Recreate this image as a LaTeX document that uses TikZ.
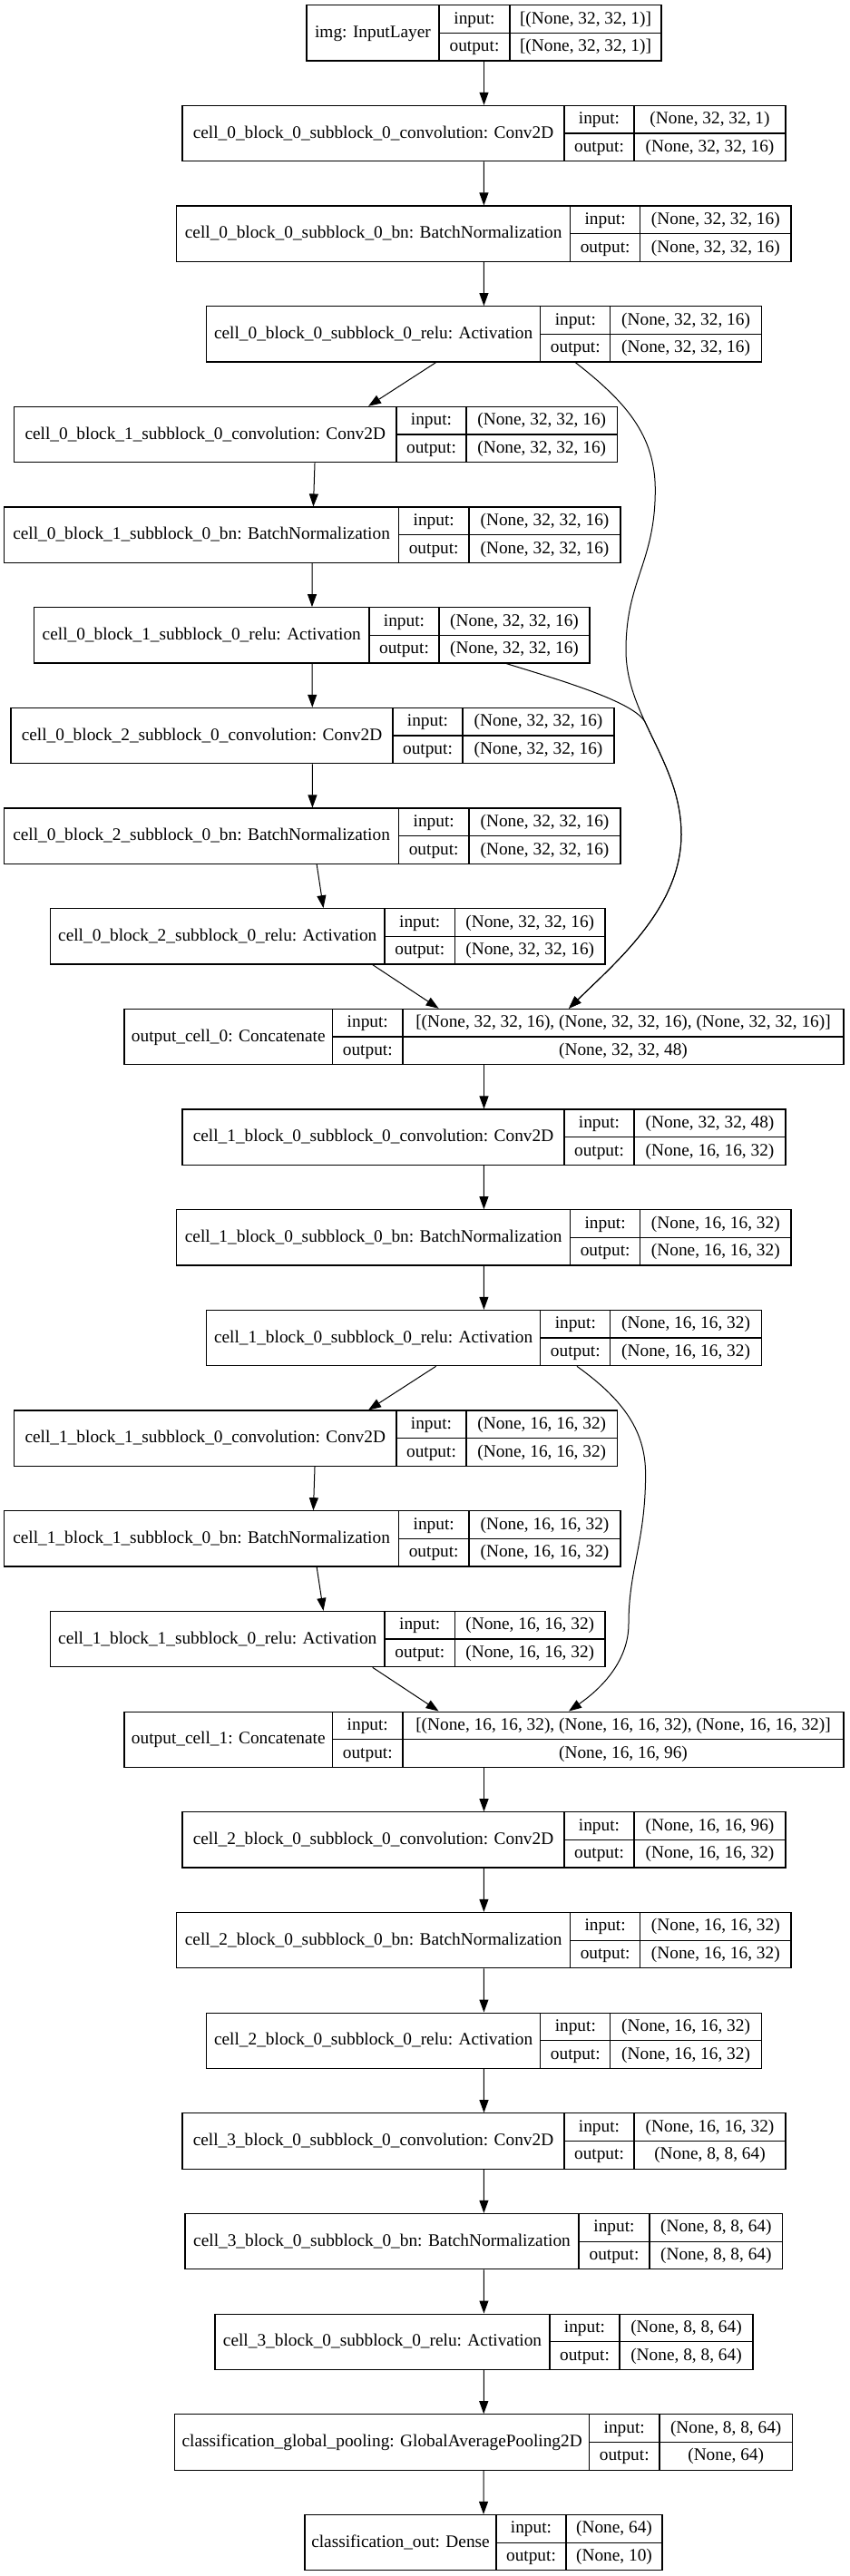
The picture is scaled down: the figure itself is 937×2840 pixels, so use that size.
\documentclass[tikz,border=0pt]{standalone}
\usepackage{fontspec}
\setmainfont{Liberation Serif}
\usetikzlibrary{arrows.meta,calc}

\begin{document}
\begin{tikzpicture}[x=0.75pt, y=-0.75pt]
    % --- DEFINE STYLES ---
    % Style for the outer frame of a layer
    \tikzstyle{layer_box} = [draw, rectangle, line width=0.9pt, inner sep=0pt, minimum height=45.975pt]
    % Style for the inner cell lines
    \tikzstyle{cell_line} = [line width=0.9pt]
    % Style for the texts in the cells
    \tikzstyle{field_txt} = [inner sep=0pt, text height=10.5pt, text depth=3pt, font=\fontsize{14.5}{17}\selectfont]
    % Style for the connections
    \tikzstyle{flow_arrow} = [line width=0.75pt, -{Triangle[length=10.5pt, width=7.5pt]}]

    \useasboundingbox (0,0) rectangle (937,2840);

    % --- ONE LAYER: name, row, left, dividers, right, texts ---
    \def\layerbox#1#2#3#4#5#6#7#8#9{
        \pgfmathsetmacro\ytop{5.7+110.67*(#2-1)}
        \pgfmathsetmacro\ymid{\ytop+30.65}
        \pgfmathsetmacro\ybot{\ytop+61.3}
        \pgfmathsetmacro\boxw{(#6-#3)*0.75}
        \node[layer_box, minimum width=\boxw pt] (#1) at ({(#3+#6)/2},\ymid) {};
        \draw[cell_line] (#4,\ytop) -- (#4,\ybot);
        \draw[cell_line] (#5,\ytop) -- (#5,\ybot);
        \draw[cell_line] (#4,\ymid) -- (#6,\ymid);
        \node[field_txt] (#1-name) at ({(#3+#4)/2},\ymid) {#7};
        \node[field_txt] (#1-il) at ({(#4+#5)/2},\ymid-15.33) {input:};
        \node[field_txt] (#1-ol) at ({(#4+#5)/2},\ymid+15.33) {output:};
        \node[field_txt] (#1-iv) at ({(#5+#6)/2},\ymid-15.33) {#8};
        \node[field_txt] (#1-ov) at ({(#5+#6)/2},\ymid+15.33) {#9};
    }

    % 1. Input and cell 0
    \layerbox{img}{1}{338}{484}{562}{729}{img: InputLayer}{[(None, 32, 32, 1)]}{[(None, 32, 32, 1)]}
    \layerbox{c0b0conv}{2}{201}{622}{699}{866}{cell\_0\_block\_0\_subblock\_0\_convolution: Conv2D}{(None, 32, 32, 1)}{(None, 32, 32, 16)}
    \layerbox{c0b0bn}{3}{194.7}{628.6}{705.7}{872}{cell\_0\_block\_0\_subblock\_0\_bn: BatchNormalization}{(None, 32, 32, 16)}{(None, 32, 32, 16)}
    \layerbox{c0b0relu}{4}{227.5}{595.8}{672.8}{839.4}{cell\_0\_block\_0\_subblock\_0\_relu: Activation}{(None, 32, 32, 16)}{(None, 32, 32, 16)}
    \layerbox{c0b1conv}{5}{15.5}{437}{514}{680.6}{cell\_0\_block\_1\_subblock\_0\_convolution: Conv2D}{(None, 32, 32, 16)}{(None, 32, 32, 16)}
    \layerbox{c0b1bn}{6}{4.8}{439.4}{517}{684}{cell\_0\_block\_1\_subblock\_0\_bn: BatchNormalization}{(None, 32, 32, 16)}{(None, 32, 32, 16)}
    \layerbox{c0b1relu}{7}{37.6}{407}{484}{650}{cell\_0\_block\_1\_subblock\_0\_relu: Activation}{(None, 32, 32, 16)}{(None, 32, 32, 16)}
    \layerbox{c0b2conv}{8}{12}{433}{510}{677}{cell\_0\_block\_2\_subblock\_0\_convolution: Conv2D}{(None, 32, 32, 16)}{(None, 32, 32, 16)}
    \layerbox{c0b2bn}{9}{4.8}{439.4}{517}{684}{cell\_0\_block\_2\_subblock\_0\_bn: BatchNormalization}{(None, 32, 32, 16)}{(None, 32, 32, 16)}
    \layerbox{c0b2relu}{10}{55.5}{424}{501.5}{667}{cell\_0\_block\_2\_subblock\_0\_relu: Activation}{(None, 32, 32, 16)}{(None, 32, 32, 16)}
    \layerbox{out0}{11}{137}{366.6}{444}{930}{output\_cell\_0: Concatenate}{[(None, 32, 32, 16), (None, 32, 32, 16), (None, 32, 32, 16)]}{(None, 32, 32, 48)}

    % 2. Cell 1
    \layerbox{c1b0conv}{12}{201}{622}{699}{866}{cell\_1\_block\_0\_subblock\_0\_convolution: Conv2D}{(None, 32, 32, 48)}{(None, 16, 16, 32)}
    \layerbox{c1b0bn}{13}{194.7}{628.6}{705.7}{872}{cell\_1\_block\_0\_subblock\_0\_bn: BatchNormalization}{(None, 16, 16, 32)}{(None, 16, 16, 32)}
    \layerbox{c1b0relu}{14}{227.5}{595.8}{672.8}{839.4}{cell\_1\_block\_0\_subblock\_0\_relu: Activation}{(None, 16, 16, 32)}{(None, 16, 16, 32)}
    \layerbox{c1b1conv}{15}{15.5}{437}{514}{680.6}{cell\_1\_block\_1\_subblock\_0\_convolution: Conv2D}{(None, 16, 16, 32)}{(None, 16, 16, 32)}
    \layerbox{c1b1bn}{16}{4.8}{439.4}{517}{684}{cell\_1\_block\_1\_subblock\_0\_bn: BatchNormalization}{(None, 16, 16, 32)}{(None, 16, 16, 32)}
    \layerbox{c1b1relu}{17}{55.5}{424}{501.5}{667}{cell\_1\_block\_1\_subblock\_0\_relu: Activation}{(None, 16, 16, 32)}{(None, 16, 16, 32)}
    \layerbox{out1}{18}{137}{366.6}{444}{930}{output\_cell\_1: Concatenate}{[(None, 16, 16, 32), (None, 16, 16, 32), (None, 16, 16, 32)]}{(None, 16, 16, 96)}

    % 3. Cells 2, 3 and classification
    \layerbox{c2b0conv}{19}{201}{622}{699}{866}{cell\_2\_block\_0\_subblock\_0\_convolution: Conv2D}{(None, 16, 16, 96)}{(None, 16, 16, 32)}
    \layerbox{c2b0bn}{20}{194.7}{628.6}{705.7}{872}{cell\_2\_block\_0\_subblock\_0\_bn: BatchNormalization}{(None, 16, 16, 32)}{(None, 16, 16, 32)}
    \layerbox{c2b0relu}{21}{227.5}{595.8}{672.8}{839.4}{cell\_2\_block\_0\_subblock\_0\_relu: Activation}{(None, 16, 16, 32)}{(None, 16, 16, 32)}
    \layerbox{c3b0conv}{22}{201}{622}{699}{866}{cell\_3\_block\_0\_subblock\_0\_convolution: Conv2D}{(None, 16, 16, 32)}{(None, 8, 8, 64)}
    \layerbox{c3b0bn}{23}{204}{638}{716}{862.7}{cell\_3\_block\_0\_subblock\_0\_bn: BatchNormalization}{(None, 8, 8, 64)}{(None, 8, 8, 64)}
    \layerbox{c3b0relu}{24}{237}{606}{683}{830}{cell\_3\_block\_0\_subblock\_0\_relu: Activation}{(None, 8, 8, 64)}{(None, 8, 8, 64)}
    \layerbox{pool}{25}{192.8}{649.5}{727}{873.4}{classification\_global\_pooling: GlobalAveragePooling2D}{(None, 8, 8, 64)}{(None, 64)}
    \layerbox{dense}{26}{336}{547}{624}{730}{classification\_out: Dense}{(None, 64)}{(None, 10)}

    % --- CONNECTIONS ---
    % Straight links between box centres
    \foreach \a/\b in {img/c0b0conv, c0b0conv/c0b0bn, c0b0bn/c0b0relu,
        c0b1conv/c0b1bn, c0b1bn/c0b1relu, c0b1relu/c0b2conv, c0b2conv/c0b2bn, c0b2bn/c0b2relu,
        out0/c1b0conv, c1b0conv/c1b0bn, c1b0bn/c1b0relu,
        c1b1conv/c1b1bn, c1b1bn/c1b1relu,
        out1/c2b0conv, c2b0conv/c2b0bn, c2b0bn/c2b0relu, c2b0relu/c3b0conv,
        c3b0conv/c3b0bn, c3b0bn/c3b0relu, c3b0relu/pool, pool/dense} {
        \draw[flow_arrow] (\a) -- (\b);
    }

    % Slanted links into and out of the side branches
    \foreach \c in {0,1} {
        \draw[flow_arrow] ($(c\c b0relu.south)+(-52.9,0)$) -- ($(c\c b1conv.north)+(58,0)$);
    }
    \draw[flow_arrow] ($(c0b2relu.south)+(49.5,0)$) -- ($(out0.north)+(-49.9,0)$);
    \draw[flow_arrow] ($(c1b1relu.south)+(49.5,0)$) -- ($(out1.north)+(-49.9,0)$);

    % Long skip links on the right
    \draw[flow_arrow] ($(c0b0relu.south)+(100.8,0)$)
        .. controls (690,443) and (722.3,480) .. (722.3,540)
        .. controls (722.3,620) and (690,640) .. (690,716.7)
        .. controls (690,790) and (751,840) .. (751,920)
        .. controls (751,1000) and (680,1060) .. ($(out0.north)+(93.5,0)$);
    \draw[flow_arrow] ($(c0b1relu.south)+(214.5,0)$)
        .. controls (618,750) and (701,774.2) .. (711.5,796.9)
        .. controls (729,834.8) and (751,872) .. (751,920)
        .. controls (751,1000) and (680,1060) .. ($(out0.north)+(93.5,0)$);
    \draw[flow_arrow] ($(c1b0relu.south)+(102.5,0)$)
        .. controls (690,1545) and (711.6,1580) .. (711.6,1625)
        .. controls (711.6,1700) and (693,1730) .. (693,1790)
        .. controls (693,1830) and (665,1860) .. ($(out1.north)+(93.5,0)$);
\end{tikzpicture}
\end{document}
